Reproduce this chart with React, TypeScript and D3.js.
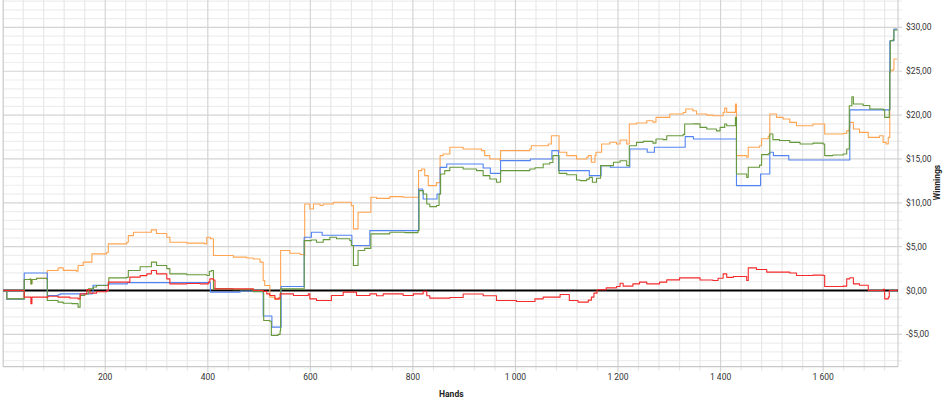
import React from "react";
import * as d3 from "d3";

const W = 945;
const H = 404;

// [hand, $]
const showdown: [number, number][] = [
  [1, 0], [8, -1.0], [40, -1.0], [42, 2.0], [86, 2.0], [87, -0.57], [108, -0.49], [112, -0.38], [147, -0.38],
  [175, -0.3], [176, 0.6], [205, 0.6], [206, 0.75], [242, 0.75], [243, 0.9], [404, 0.9], [405, -0.19], [449, -0.19],
  [463, -0.05], [507, -0.15], [508, -2.9], [524, -2.9], [525, -4.18], [542, -4.18], [543, 0.46], [587, 0.46],
  [588, 6.07], [601, 6.07], [602, 6.64], [622, 6.64], [623, 6.3], [680, 6.3], [681, 5.13], [715, 5.13], [716, 6.83],
  [810, 6.83], [811, 11.58], [819, 11.4], [820, 10.44], [846, 10.44], [847, 11.0], [852, 11.0], [853, 14.04],
  [865, 14.04], [866, 14.43], [936, 14.43], [937, 13.97], [950, 13.97], [951, 13.36], [970, 13.36], [971, 14.81],
  [1028, 14.81], [1029, 15.0], [1070, 15.0], [1071, 15.95], [1083, 15.95], [1084, 13.67], [1142, 13.67],
  [1144, 13.1], [1166, 13.1], [1167, 14.24], [1184, 14.24], [1185, 14.05], [1222, 14.05], [1223, 16.14],
  [1256, 16.14], [1257, 15.76], [1270, 15.76], [1271, 16.33], [1330, 16.33], [1331, 17.54], [1346, 17.54],
  [1347, 17.27], [1430, 17.27], [1431, 11.96], [1476, 11.96], [1478, 13.29], [1495, 13.29], [1496, 15.76],
  [1502, 15.76], [1503, 15.38], [1532, 15.38], [1533, 14.88], [1651, 14.88], [1652, 20.6], [1729, 20.6],
  [1730, 28.47], [1736, 28.47], [1738, 29.8], [1744, 29.8],
];

const netWon: [number, number][] = [
  [1, 0], [8, -0.95], [40, -0.95], [42, 1.25], [53, 1.3], [55, 0.76], [57, 1.25], [66, 1.4], [86, 1.3],
  [87, -1.14], [108, -1.33], [118, -1.45], [135, -1.5], [147, -1.9], [151, -0.57], [160, -0.4], [167, 0.19],
  [177, 0.4], [183, 0.57], [206, 0.7], [207, 1.44], [242, 1.5], [245, 2.28], [268, 2.7], [290, 3.23], [300, 2.85],
  [320, 2.5], [326, 1.9], [359, 1.8], [398, 1.71], [403, 2.2], [407, 2.28], [411, 0.19], [449, 0.1], [488, -0.15],
  [508, -0.3], [509, -3.42], [521, -3.5], [524, -5.13], [537, -5.0], [541, -4.6], [542, 0.19], [586, 0.15],
  [588, 5.69], [602, 5.75], [612, 5.5], [625, 5.8], [638, 6.07], [651, 5.9], [677, 5.69], [680, 5.13], [684, 2.85],
  [691, 2.85], [693, 4.56], [706, 4.8], [716, 4.8], [718, 6.46], [755, 6.64], [784, 6.6], [810, 6.83],
  [812, 11.39], [820, 11.0], [827, 9.87], [833, 9.56], [846, 9.7], [851, 11.0], [854, 13.29], [862, 13.67],
  [872, 14.05], [898, 13.86], [924, 13.67], [937, 13.1], [950, 12.72], [963, 12.34], [970, 12.4], [971, 13.67],
  [1015, 13.67], [1028, 13.86], [1038, 14.0], [1054, 14.43], [1067, 14.6], [1073, 15.38], [1083, 15.4],
  [1085, 13.36], [1100, 13.2], [1119, 12.6], [1126, 12.53], [1139, 12.7], [1144, 12.9], [1150, 12.34],
  [1158, 12.8], [1166, 14.24], [1191, 14.62], [1204, 14.8], [1217, 14.24], [1222, 16.51], [1236, 16.89],
  [1249, 17.0], [1268, 16.8], [1274, 17.27], [1288, 17.2], [1295, 17.65], [1327, 17.8], [1330, 18.98],
  [1346, 19.0], [1360, 18.6], [1373, 18.41], [1392, 18.2], [1399, 18.6], [1408, 18.98], [1412, 18.79],
  [1428, 18.79], [1429, 19.74], [1431, 13.29], [1451, 12.9], [1454, 14.05], [1476, 14.3], [1480, 15.49],
  [1493, 15.6], [1496, 17.84], [1502, 17.2], [1515, 17.1], [1535, 16.89], [1555, 16.7], [1580, 16.8],
  [1600, 16.7], [1603, 15.38], [1619, 15.45], [1639, 15.57], [1646, 16.14], [1651, 21.07], [1656, 22.1],
  [1659, 21.26], [1678, 21.1], [1691, 20.69], [1717, 20.6], [1720, 19.74], [1727, 19.74], [1729, 20.6],
  [1730, 24.87], [1731, 28.47], [1736, 28.6], [1738, 29.7], [1744, 29.8],
];

const allInEV: [number, number][] = [
  [1, 0], [8, -0.95], [40, -0.95], [42, 1.25], [53, 1.3], [55, 0.76], [57, 1.25], [66, 1.4], [86, 1.3],
  [87, 2.28], [108, 2.58], [118, 2.3], [144, 2.2], [147, 2.85], [157, 3.23], [174, 4.18], [183, 4.18],
  [203, 4.37], [206, 5.32], [242, 5.51], [245, 6.26], [255, 6.64], [274, 6.64], [290, 6.91], [300, 6.5],
  [320, 6.07], [326, 5.5], [359, 5.4], [394, 5.32], [398, 6.07], [405, 5.9], [411, 3.99], [450, 3.8],
  [476, 3.7], [489, 3.6], [502, 3.23], [508, 1.14], [511, 0.57], [518, 0.57], [521, -0.76], [531, -1.02],
  [537, -0.8], [542, 4.56], [560, 4.25], [580, 4.1], [588, 4.0], [589, 9.87], [599, 9.3], [606, 9.87],
  [619, 9.7], [625, 9.87], [645, 10.06], [664, 10.06], [680, 9.68], [684, 7.03], [690, 7.03], [693, 8.92],
  [716, 8.92], [718, 10.63], [729, 10.5], [755, 10.7], [781, 10.63], [810, 10.63], [811, 13.67], [817, 13.86],
  [823, 13.1], [830, 11.96], [840, 11.96], [846, 12.3], [853, 15.38], [859, 15.57], [872, 16.33], [898, 16.14],
  [924, 16.14], [934, 15.95], [940, 15.38], [950, 15.0], [970, 14.81], [971, 15.95], [1015, 15.95],
  [1028, 16.14], [1031, 16.51], [1054, 16.51], [1064, 16.7], [1070, 17.65], [1083, 17.65], [1085, 15.76],
  [1100, 15.38], [1119, 15.0], [1139, 15.19], [1142, 15.38], [1148, 14.62], [1155, 15.38], [1157, 15.76],
  [1168, 16.7], [1184, 16.9], [1197, 16.7], [1204, 17.16], [1217, 16.7], [1222, 18.98], [1236, 19.1],
  [1256, 19.36], [1268, 19.2], [1274, 19.74], [1295, 19.74], [1301, 20.12], [1327, 20.3], [1332, 20.69],
  [1346, 20.5], [1353, 20.12], [1373, 20.0], [1385, 19.93], [1405, 20.31], [1408, 20.8], [1412, 20.31],
  [1428, 20.31], [1429, 21.26], [1431, 15.38], [1451, 15.19], [1454, 16.33], [1476, 16.5], [1480, 17.3],
  [1493, 17.6], [1496, 20.12], [1509, 19.74], [1522, 19.55], [1535, 19.17], [1548, 18.79], [1580, 18.98],
  [1600, 18.98], [1603, 17.84], [1639, 17.9], [1646, 18.2], [1651, 18.6], [1652, 19.17], [1659, 18.41],
  [1671, 18.03], [1688, 17.46], [1710, 17.65], [1717, 16.89], [1723, 16.7], [1727, 17.46], [1729, 17.46],
  [1730, 25.06], [1736, 25.2], [1738, 26.39], [1744, 26.39],
];

const nonShowdown: [number, number][] = [
  [1, 0], [40, 0], [42, -0.76], [53, -0.76], [55, -1.5], [57, -0.76], [86, -0.8], [88, -0.65], [108, -0.76],
  [131, -0.85], [147, -0.95], [151, -0.38], [164, 0.1], [170, -0.3], [183, -0.15], [203, 0], [206, 0.95],
  [242, 0.95], [248, 1.52], [268, 1.7], [281, 1.9], [290, 2.28], [300, 1.9], [320, 1.33], [326, 0.76],
  [359, 0.8], [385, 0.76], [401, 0.95], [404, 1.33], [411, 1.2], [414, 0.19], [450, 0.19], [489, 0],
  [508, -0.1], [515, -0.38], [521, -0.57], [531, -0.95], [541, -0.38], [567, -0.57], [596, -0.38],
  [599, -0.95], [612, -1.14], [638, -1.14], [641, -0.57], [664, -0.19], [690, -0.57], [716, -0.38],
  [729, -0.6], [742, -0.38], [781, -0.57], [801, -0.38], [820, -0.08], [827, -0.6], [833, -0.87], [872, -0.8],
  [898, -0.4], [937, -0.6], [963, -1.14], [1002, -1.25], [1038, -0.95], [1054, -0.76], [1087, -0.46],
  [1105, -1.14], [1122, -1.33], [1142, -1.1], [1148, -0.76], [1153, -0.3], [1159, 0.08], [1177, 0.3],
  [1197, 0.46], [1204, 0.83], [1210, 0.5], [1223, 0.5], [1229, 0.76], [1242, 0.95], [1256, 0.76],
  [1281, 0.95], [1295, 1.21], [1320, 1.44], [1346, 1.44], [1360, 1.2], [1385, 1.14], [1395, 1.4],
  [1405, 1.9], [1412, 1.5], [1425, 1.6], [1451, 1.14], [1454, 2.58], [1470, 2.4], [1490, 2.09], [1515, 2.09],
  [1535, 2.0], [1548, 1.71], [1580, 1.75], [1600, 1.71], [1603, 0.46], [1639, 0.5], [1646, 1.33],
  [1652, 1.45], [1659, 0.76], [1671, 0.6], [1688, 0], [1714, 0], [1717, 0.15], [1720, -0.95], [1727, -0.76],
  [1729, 0], [1744, 0.1],
];

const xTicks = [200, 400, 600, 800, 1000, 1200, 1400, 1600];
const yTicks = [-5, 0, 5, 10, 15, 20, 25, 30];
const handsExtent: [number, number] = [1, 1746];
const xTitle = "Hands";
const yTitle = "Winnings";

const series = [
  { name: "All-in EV", data: allInEV, color: "#ffa552" },
  { name: "Showdown", data: showdown, color: "#5283f2" },
  { name: "Net won", data: netWon, color: "#66993b" },
  { name: "Non-showdown", data: nonShowdown, color: "#f52a2a" },
];

const locale = d3.formatLocale({
  decimal: ",",
  thousands: "\u00a0",
  grouping: [3],
  currency: ["$", ""],
  minus: "-",
});
const fmtX = locale.format(",d");
const fmtY = locale.format("$.2f");

export default function App() {
  const left = 3.2;
  const right = 898;
  const top = 0;
  const bottom = 366.7;
  const x = d3.scaleLinear().domain(handsExtent).range([left, right]);
  const y = d3.scaleLinear().domain([-5, 30]).range([334.35, 27.4]);
  const vMin = y.invert(bottom);
  const vMax = y.invert(top);

  const minorY = d3.range(Math.ceil(vMin), Math.floor(vMax) + 1).filter((v) => v % 5 !== 0);
  const majorY = d3.range(Math.ceil(vMin / 5) * 5, vMax, 5).filter((v) => v !== 0);
  const minorX = d3.range(40, handsExtent[1], 40).filter((v) => v % 200 !== 0);
  const majorX = d3.range(200, handsExtent[1], 200);

  const line = d3
    .line<[number, number]>()
    .x((d) => x(d[0]))
    .y((d) => y(d[1]))
    .curve(d3.curveStepAfter);

  const font = "Roboto, 'Segoe UI', sans-serif";

  return (
    <div style={{ position: "absolute", left: 0, top: 0, width: W, height: H }}>
      <svg width={W} height={H} style={{ display: "block" }}>
        <rect x={0} y={0} width={W} height={H} fill="#ffffff" />
        <g>
          {minorY.map((v) => (
            <line key={"my" + v} x1={left} x2={right + 4} y1={y(v)} y2={y(v)} stroke="#eeeeee" strokeWidth={1.2} />
          ))}
          {minorX.map((v) => (
            <line key={"mx" + v} x1={x(v)} x2={x(v)} y1={top} y2={bottom + 4} stroke="#e8e8e8" strokeWidth={1.2} />
          ))}
          {majorY.map((v) => (
            <line key={"My" + v} x1={left} x2={right + 4} y1={y(v)} y2={y(v)} stroke="#d4d4d4" strokeWidth={1.2} />
          ))}
          {majorX.map((v) => (
            <line key={"Mx" + v} x1={x(v)} x2={x(v)} y1={top} y2={bottom + 5} stroke="#d4d4d4" strokeWidth={1.2} />
          ))}
          <line x1={left} x2={left} y1={top} y2={bottom} stroke="#c8c8c8" strokeWidth={1.2} />
          <line x1={right} x2={right} y1={top} y2={bottom} stroke="#d0d0d0" strokeWidth={1.2} />
          <line x1={left} x2={right} y1={bottom} y2={bottom} stroke="#c8c8c8" strokeWidth={1.2} />
        </g>
        <line x1={left} x2={right} y1={y(0)} y2={y(0)} stroke="#000000" strokeWidth={2} />
        <g fill="none">
          {series.map((s) => (
            <path key={s.name} d={line(s.data) || ""} stroke={s.color} strokeWidth={1.1} strokeLinejoin="round" />
          ))}
        </g>
        <g fontFamily={font} fontSize={8.5} fill="#333">
          {xTicks.map((v) => (
            <text key={"xt" + v} x={x(v)} y={380} textAnchor="middle">
              {fmtX(v)}
            </text>
          ))}
          {yTicks.map((v) => (
            <text key={"yt" + v} x={906} y={y(v)} dominantBaseline="central">
              {fmtY(v)}
            </text>
          ))}
          <text x={451.3} y={396.5} textAnchor="middle" fontWeight="bold" fill="#222">
            {xTitle}
          </text>
          <text
            transform={`translate(940,182.5) rotate(-90)`}
            textAnchor="middle"
            fontWeight="bold"
            fill="#222"
          >
            {yTitle}
          </text>
        </g>
      </svg>
    </div>
  );
}
